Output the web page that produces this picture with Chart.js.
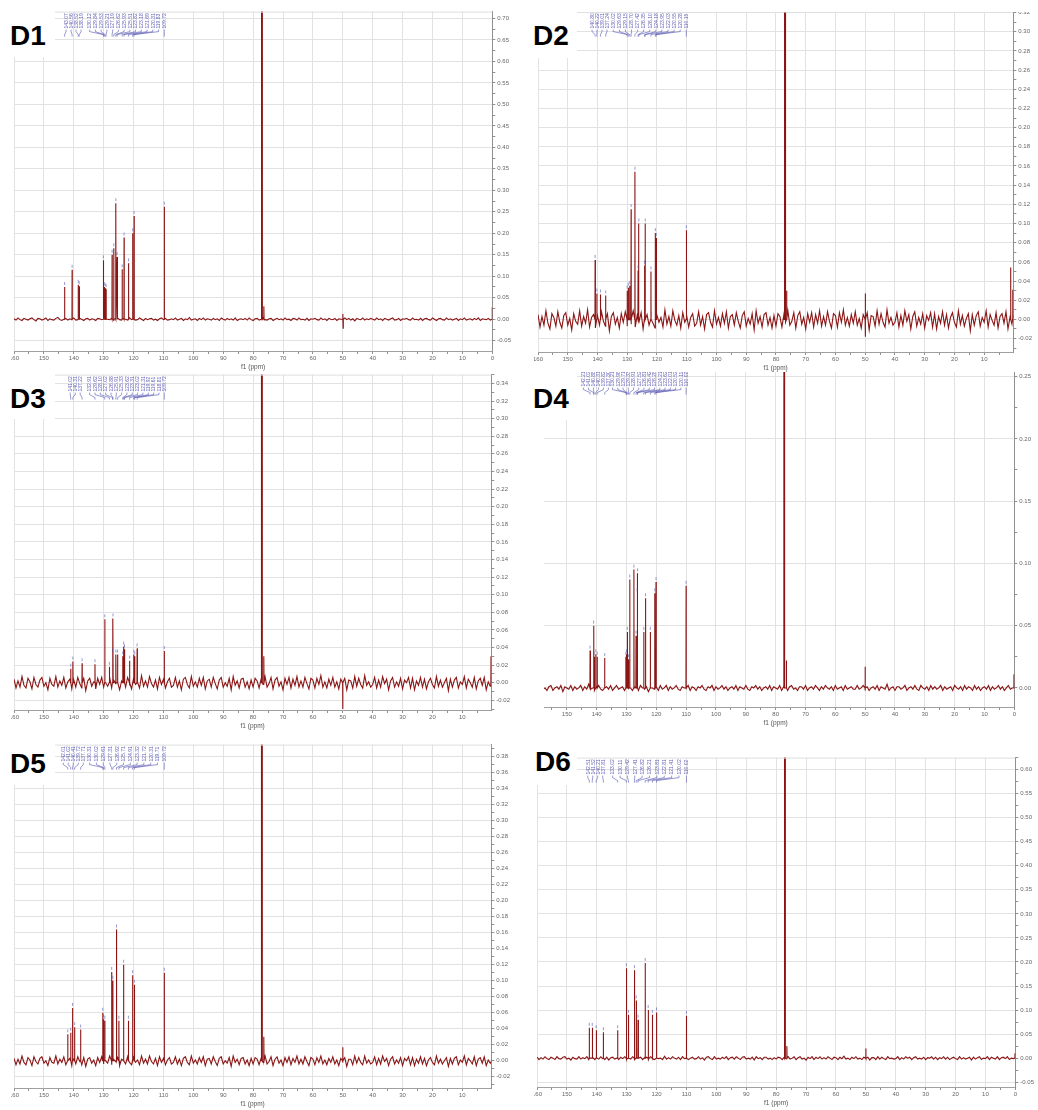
<!DOCTYPE html>
<html>
<head>
<meta charset="utf-8">
<script src="https://cdn.jsdelivr.net/npm/chart.js@4.4.1/dist/chart.umd.min.js"></script>
<style>
  body { margin:0; background:#fff; width:1038px; height:1110px; position:relative; overflow:hidden; }
  .clip { position:absolute; overflow:hidden; }
  .clip canvas { position:absolute; }
  .tag { position:absolute; background:#fff; z-index:5; }
  .tag span { position:absolute; font:bold 28px "Liberation Sans", Arial, sans-serif; line-height:28px; color:#000; }
</style>
</head>
<body>
<script>
// ---- spectra: peak positions (ppm), heights, baseline noise (x0.001, 160 -> 0 ppm) ----
const d1Ppm = [143.07, 140.56, 138.52, 138.19, 130.12, 129.84, 129.53, 129.21, 127.19, 126.62, 125.93, 125.51, 123.82, 123.18, 121.69, 120.31, 119.83, 109.72, 77.20, 76.95, 76.40, 50.02, 49.90, 0.05];
const d1Int = [0.075, 0.115, 0.080, 0.077, 0.137, 0.075, 0.072, 0.070, 0.150, 0.165, 0.270, 0.145, 0.116, 0.190, 0.130, 0.200, 0.240, 0.262, 1.5, 1.5, 0.030, 0.012, -0.021, 0.028];
const d1Noise = [
   1,-2, 3,-1,-3, 2, 0,-2, 1, 3,-1,-4, 2, 1,-2, 0, 3,-3, 1,-1,
  -2, 2, 4,-1,-3, 0, 2,-2, 1,-1, 3,-2,-1, 2, 0,-3, 1, 2,-2, 1,
   0,-3, 2, 1,-1, 3,-2, 0,-1, 2,-4, 1, 3,-1,-2, 2, 0,-2, 3,-1,
   1,-2,-1, 3, 0,-3, 2,-1, 1, 2,-2, 0,-3, 1, 3,-1, 2,-2,-1, 1,
  -1, 3,-2, 0, 2,-3, 1,-1, 4,-2, 0, 1,-3, 2,-1, 3,-2, 1, 0,-2,
   2,-1, 1,-3, 3, 0,-2, 2,-1, 1,-2, 3,-3, 0, 1,-1, 2,-2, 3,-1,
  -3, 1, 2,-2, 0, 3,-1,-2, 1, 2,-3, 0, 2,-1, 1,-2, 3,-1, 0,-3,
   2, 1,-2, 3,-1, 0,-2, 2,-3, 1, 0, 2,-1,-2, 3,-1, 1,-3, 2, 0,
  -1, 2,-3, 1, 0,-2, 3,-1, 2,-2, 1,-4, 2, 0,-1, 3,-2, 1,-1, 2,
   0,-2, 3,-1, 1,-3, 2, 0,-2, 1, 3,-2,-1, 2,-3, 1, 0, 2,-1,-2,
   3,-1, 0,-2, 2,-3, 1, 2,-1,-2, 3, 0,-3, 1, 2,-1,-2, 3,-1, 1,
  -2, 0, 2,-3, 1,-1, 3,-2, 0, 1,-2, 2,-1, 3,-3, 1, 0,-1, 2,-2, 1];

const d2Ppm = [140.80, 140.22, 139.01, 137.24, 130.02, 129.63, 129.15, 128.70, 127.42, 126.35, 126.10, 124.18, 123.95, 122.03, 120.55, 120.28, 110.15, 77.20, 76.95, 76.40, 49.98, 49.90, 1.10, 0.40];
const d2Int = [0.062, 0.027, 0.026, 0.025, 0.030, 0.033, 0.035, 0.115, 0.154, 0.051, 0.100, 0.056, 0.100, 0.050, 0.090, 0.085, 0.093, 1.5, 1.5, 0.030, 0.027, -0.018, 0.054, 0.031];
const d2Noise = [
   5,-8, 3,-6, 9,-4,-10, 6, 2,-7, 8,-3,-9, 4, 7,-6, 1,-11, 6,-2,
  -5, 9,-7, 3,-4, 10,-8, 2, 5,-9, 4,-6, 8,-2,-7, 6,-12, 3, 7,-5,
   2,-9, 6,-3, 8,-7, 1,-5, 9,-8, 4,-2, 7,-10, 3, 5,-6, 8,-4,-9,
   6,-3, 2,-8, 10,-5, 3,-7, 9,-1,-6, 4,-9, 7,-3, 5,-8, 2, 6,-7,
  -4, 8,-6, 3,-10, 5, 7,-3,-8, 9,-5, 2,-7, 6,-4, 8,-9, 3, 5,-6,
   7,-2,-9, 4, 8,-7, 1,-5, 6,-11, 9,-4, 3,-8, 5, 7,-6, 2,-9, 4,
  -7, 6, 3,-8, 5,-3, 9,-6,-2, 7,-9, 4, 8,-5, 2,-10, 6,-3, 7,-8,
   5,-4, 9,-7, 3,-6, 8,-2,-9, 6, 4,-8, 7,-3, 10,-6, 2,-7, 5,-4,
   8,-6, 1,-9, 5,-2, 7,-11, 4, 3,-7, 9,-5, 6,-3,-8, 10,-4, 2,-6,
  -3, 7,-8, 4,-6, 9,-2, 5,-10, 3, 8,-7, 2,-5, 6,-9, 4,-1, 7,-8,
   6,-10, 3,-4, 8,-6, 5,-9, 2, 7,-3,-8, 9,-5, 4,-7, 1, 6,-12, 5,
  -6, 4, 8,-7, 2,-3, 9,-8, 5,-1,-6, 7,-9, 3, 6,-4, 8,-10, 2,-5, 4];

const d3Ppm = [141.02, 140.31, 137.22, 132.91, 129.62, 128.10, 127.02, 126.88, 125.91, 125.33, 123.62, 123.31, 123.02, 121.31, 119.92, 119.61, 118.81, 109.72, 77.20, 76.95, 76.40, 50.00, 0.40];
const d3Int = [0.016, 0.024, 0.022, 0.021, 0.072, 0.018, 0.033, 0.073, 0.032, 0.032, 0.030, 0.041, 0.038, 0.025, 0.032, 0.030, 0.039, 0.036, 1.5, 1.5, 0.030, -0.030, 0.030];
const d3Noise = [
   4,-6, 2,-5, 7,-3,-6, 5, 1,-7, 6,-2,-5, 3, 6,-4, 0,-8, 5,-2,
  -4, 7,-5, 2,-3, 6,-6, 1, 4,-7, 3,-5, 6,-1,-6, 5,-9, 2, 5,-4,
   1,-7, 5,-2, 6,-5, 0,-4, 7,-6, 3,-1, 5,-8, 2, 4,-5, 6,-3,-7,
   5,-2, 1,-6, 8,-4, 2,-5, 7,-1,-5, 3,-7, 6,-2, 4,-6, 1, 5,-5,
  -3, 6,-5, 2,-8, 4, 6,-2,-6, 7,-4, 1,-5, 5,-3, 6,-7, 2, 4,-5,
   6,-1,-7, 3, 6,-5, 0,-4, 5,-8, 7,-3, 2,-6, 4, 5,-5, 1,-7, 3,
  -5, 5, 2,-6, 4,-2, 7,-5,-1, 6,-7, 3, 6,-4, 1,-8, 5,-2, 6,-6,
   4,-3, 7,-5, 2,-5, 6,-1,-7, 5, 3,-6, 5,-2, 8,-5, 1,-6, 4,-3,
   6,-5, 1,-7, 4,-2, 5,-8, 3, 2,-6, 7,-4, 5,-2,-6, 8,-3, 1,-5,
  -2, 6,-6, 3,-5, 7,-1, 4,-8, 2, 6,-5, 1,-4, 5,-7, 3, 0, 6,-6,
   5,-8, 2,-3, 6,-5, 4,-7, 1, 5,-2,-6, 7,-4, 3,-5, 0, 5,-9, 4,
  -5, 3, 6,-6, 1,-2, 7,-6, 4, 0,-5, 6,-7, 2, 5,-3, 6,-8, 1,-4, 2];

const d4Ppm = [142.21, 141.02, 140.88, 140.31, 139.82, 137.30, 130.21, 129.98, 129.71, 129.33, 128.91, 127.52, 126.81, 126.42, 126.28, 124.21, 123.62, 122.01, 120.52, 120.11, 110.02, 77.20, 76.95, 76.40, 50.00, 0.10];
const d4Int = [0.030, 0.050, 0.025, 0.027, 0.025, 0.024, 0.025, 0.027, 0.045, 0.023, 0.087, 0.095, 0.042, 0.076, 0.092, 0.045, 0.072, 0.045, 0.076, 0.085, 0.082, 1.5, 1.5, 0.022, 0.017, 0.011];
const d4Noise = [
   1,-2, 2,-1, 0,-2, 1, 2,-2, 0, 1,-1, 2,-3, 1, 0,-1, 2,-2, 1,
  -1, 0, 2,-2, 1,-1, 3,-1, 0,-2, 1, 2,-1,-2, 0, 1,-1, 2,-2, 0,
   2,-1, 0, 1,-2, 2,-1, 0,-2, 1, 1,-2, 2, 0,-1, 1,-3, 2, 0,-1,
   1,-2, 2,-1, 0, 2,-2, 1,-1, 0, 2,-1,-2, 1, 0,-1, 2,-2, 1, 0,
  -2, 1, 0, 2,-1,-2, 1, 0, 2,-2, 1,-1, 0, 2,-1, 1,-2, 0, 1,-1,
   2,-2, 1, 0,-1, 2,-1,-2, 1, 0, 2,-1, 1,-2, 0, 1,-1, 2,-2, 1,
   0,-1, 2,-2, 1, 0,-2, 1, 2,-1, 0,-2, 1, 1,-1, 2,-2, 0, 1,-1,
   2, 0,-2, 1,-1, 2, 0,-1, 1,-2, 2,-1, 0, 1,-2, 2,-1, 0, 1,-1,
  -1, 2,-1, 0, 2,-2, 1,-2, 0, 1,-1, 2,-2, 1, 0,-1, 3,-2, 0, 1,
  -2, 1, 1,-1, 0, 2,-2, 0, 1,-1, 2,-1,-2, 2, 0,-1, 1,-2, 2,-1,
   1,-1, 0, 2,-2, 1,-1, 0, 1,-2, 2, 0,-1, 1,-2, 2,-1, 1, 0,-2,
   2,-1, 1,-2, 0, 1,-1, 2,-2, 1,-1, 0, 2,-1, 1,-2, 0, 2,-1, 0, 1];

const d5Ppm = [142.01, 141.02, 140.41, 139.72, 137.71, 130.31, 130.02, 129.61, 127.31, 126.92, 125.71, 124.91, 123.32, 121.72, 120.31, 119.71, 109.72, 77.20, 76.95, 76.40, 50.00];
const d5Int = [0.033, 0.035, 0.066, 0.042, 0.039, 0.060, 0.052, 0.050, 0.111, 0.100, 0.164, 0.050, 0.120, 0.050, 0.107, 0.095, 0.110, 1.5, 1.5, 0.030, 0.017];
const d5Noise = [
   3,-5, 2,-4, 6,-2,-5, 4, 1,-6, 5,-1,-4, 3, 5,-3, 0,-6, 4,-2,
  -3, 6,-4, 2,-2, 5,-5, 1, 3,-6, 2,-4, 5,-1,-5, 4,-7, 2, 4,-3,
   1,-6, 4,-2, 5,-4, 0,-3, 6,-5, 2,-1, 4,-6, 2, 3,-4, 5,-2,-5,
   4,-2, 1,-5, 6,-3, 2,-4, 6,-1,-4, 3,-6, 5,-2, 3,-5, 1, 4,-4,
  -2, 5,-4, 2,-6, 3, 5,-2,-5, 6,-3, 1,-4, 4,-2, 5,-6, 2, 3,-4,
   5,-1,-6, 3, 5,-4, 0,-3, 4,-7, 6,-2, 2,-5, 3, 4,-4, 1,-6, 3,
  -4, 4, 2,-5, 3,-2, 6,-4,-1, 5,-6, 2, 5,-3, 1,-6, 4,-2, 5,-5,
   3,-2, 6,-4, 2,-4, 5,-1,-6, 4, 2,-5, 4,-2, 6,-4, 1,-5, 3,-2,
   5,-4, 1,-6, 3,-2, 4,-7, 2, 2,-5, 6,-3, 4,-2,-5, 6,-3, 1,-4,
  -2, 5,-5, 3,-4, 6,-1, 3,-6, 2, 5,-4, 1,-3, 4,-6, 3, 0, 5,-5,
   4,-6, 2,-3, 5,-4, 3,-6, 1, 4,-2,-5, 6,-3, 2,-4, 0, 4,-7, 3,
  -4, 3, 5,-5, 1,-2, 6,-5, 3, 0,-4, 5,-6, 2, 4,-3, 5,-6, 1,-3, 1];

const d6Ppm = [142.51, 141.52, 140.21, 137.81, 133.02, 130.11, 129.42, 127.41, 126.82, 126.21, 123.81, 122.81, 121.41, 120.02, 110.02, 77.20, 76.95, 76.40, 50.00, 0.10];
const d6Int = [0.063, 0.063, 0.058, 0.054, 0.058, 0.187, 0.090, 0.183, 0.120, 0.080, 0.198, 0.100, 0.090, 0.095, 0.088, 1.5, 1.5, 0.025, 0.020, 0.010];
const d6Noise = [
   2,-3, 1,-2, 3,-1,-3, 2, 0,-3, 3,-1,-2, 2, 3,-2, 0,-4, 2,-1,
  -2, 3,-2, 1,-1, 3,-3, 0, 2,-3, 1,-2, 3,-1,-3, 2,-4, 1, 2,-2,
   0,-3, 2,-1, 3,-2, 0,-2, 3,-3, 1, 0, 2,-3, 1, 2,-2, 3,-1,-3,
   2,-1, 0,-3, 4,-2, 1,-2, 3, 0,-2, 2,-3, 3,-1, 2,-3, 0, 2,-2,
  -1, 3,-2, 1,-4, 2, 3,-1,-3, 3,-2, 0,-2, 2,-1, 3,-3, 1, 2,-2,
   3, 0,-3, 2, 3,-2, 0,-2, 2,-4, 3,-1, 1,-3, 2, 2,-2, 0,-3, 1,
  -2, 2, 1,-3, 2,-1, 3,-2, 0, 3,-3, 1, 3,-2, 0,-4, 2,-1, 3,-3,
   2,-1, 3,-2, 1,-2, 3, 0,-3, 2, 1,-3, 2,-1, 4,-2, 0,-3, 2,-1,
   3,-2, 0,-3, 2,-1, 2,-4, 1, 1,-3, 3,-2, 2,-1,-3, 3,-1, 0,-2,
  -1, 3,-3, 1,-2, 3, 0, 2,-3, 1, 3,-2, 0,-2, 2,-3, 1, 0, 3,-2,
   2,-3, 1,-1, 3,-2, 2,-3, 0, 2,-1,-3, 3,-2, 1,-2, 0, 2,-4, 2,
  -2, 1, 3,-3, 0,-1, 3,-3, 2, 0,-2, 3,-3, 1, 2,-1, 3,-3, 0,-1, 0];

// axis ranges (ppm axis runs 160 -> xMin, intensity axis yMin..yMax)
const PPM_MAX = 160;

const panels = [
  { tag:'D1', ppm:d1Ppm, int:d1Int, noise:d1Noise, xMin:0,   yMin:-0.074, yMax:0.716, yMinor:0.025, yMajor:0.05,
    box:[11,0,522,372],   area:[14,12,492,351],    tagBox:[0,0,55,57],     tagAt:[10,22] },
  { tag:'D2', ppm:d2Ppm, int:d2Int, noise:d2Noise, xMin:0.2, yMin:-0.034, yMax:0.321, yMinor:0.01, yMajor:0.02,
    box:[534,12,1038,372], area:[538,12,1013,352],  tagBox:[520,0,57,58],   tagAt:[533,22] },
  { tag:'D3', ppm:d3Ppm, int:d3Int, noise:d3Noise, xMin:0.3, yMin:-0.031, yMax:0.350, yMinor:0.01, yMajor:0.02,
    box:[11,372,522,735], area:[14,375,491,710],   tagBox:[0,372,55,47],   tagAt:[10,385] },
  { tag:'D4', ppm:d4Ppm, int:d4Int, noise:d4Noise, xMin:0,   yMin:-0.0153, yMax:0.2556, yMinor:0.025, yMajor:0.05,
    box:[544,372,1038,735], area:[537,370,1014,707], tagBox:[520,372,57,48], tagAt:[533,385] },
  { tag:'D5', ppm:d5Ppm, int:d5Int, noise:d5Noise, xMin:0.3, yMin:-0.034, yMax:0.395, yMinor:0.01, yMajor:0.02,
    box:[11,735,522,1110], area:[14,745,491,1088], tagBox:[0,735,55,50],   tagAt:[10,750] },
  { tag:'D6', ppm:d6Ppm, int:d6Int, noise:d6Noise, xMin:0,   yMin:-0.060, yMax:0.625, yMinor:0.025, yMajor:0.05,
    box:[534,735,1038,1110], area:[537,758,1015,1087], tagBox:[520,735,57,50], tagAt:[535,748] }
];

Chart.defaults.font.family = '"Liberation Sans", Arial, sans-serif';

function spectrum(p) {
  const pts = [];
  const step = PPM_MAX / (p.noise.length - 1);
  p.noise.forEach((n, i) => pts.push({ x: PPM_MAX - i * step, y: n / 1000 }));
  p.ppm.forEach((v, i) => {
    pts.push({ x: v + 0.05, y: 0 }, { x: v, y: p.int[i] }, { x: v - 0.05, y: 0 });
  });
  pts.sort((a, b) => b.x - a.x);
  return pts;
}

const isMult = (v, m) => Math.abs(Math.round(v / m) * m - v) < 1e-6;

// top border + peak-picking labels
const nmrDecor = {
  id: 'nmrDecor',
  afterDatasetsDraw(chart, args, opts) {
    const { ctx, chartArea: ca, scales: { x, y } } = chart;
    ctx.save();
    ctx.strokeStyle = '#dedede';
    ctx.lineWidth = 1;
    ctx.beginPath(); ctx.moveTo(ca.left, ca.top + 0.5); ctx.lineTo(ca.right, ca.top + 0.5); ctx.stroke();

    const list = opts.ppm.map((v, i) => ({ v, h: opts.int[i] }))
      .filter(o => o.v > 105 && o.v < 146).sort((a, b) => b.v - a.v);
    const left = list.filter(o => o.v > 134), right = list.filter(o => o.v <= 134);
    const slots = [];
    const mean = left.reduce((s, o) => s + x.getPixelForValue(o.v), 0) / left.length;
    left.forEach((o, i) => slots.push({ o, sx: mean + (i - (left.length - 1) / 2) * 5 }));
    const r0 = x.getPixelForValue(134.7), r1 = x.getPixelForValue(right[right.length - 1].v);
    right.forEach((o, i) => slots.push({ o, sx: r0 + (r1 - r0) * i / (right.length - 1) }));

    const t = ca.top;
    ctx.font = '5px "Liberation Sans", Arial, sans-serif';
    ctx.fillStyle = 'rgba(70,70,170,0.85)';
    ctx.strokeStyle = 'rgba(70,70,170,0.8)';
    ctx.lineWidth = 0.7;
    slots.forEach(({ o, sx }) => {
      ctx.save();
      ctx.translate(sx + 1.8, t + 17);
      ctx.rotate(-Math.PI / 2);
      ctx.fillText(o.v.toFixed(2), 0, 0);
      ctx.restore();
      const px = x.getPixelForValue(o.v);
      ctx.beginPath();
      ctx.moveTo(sx, t + 18); ctx.lineTo(sx, t + 20); ctx.lineTo(px, t + 23); ctx.lineTo(px, t + 25);
      ctx.stroke();
      const py = y.getPixelForValue(o.h);
      if (py - 6 > t + 26) {
        ctx.beginPath(); ctx.moveTo(px, py - 5); ctx.lineTo(px, py - 2); ctx.stroke();
      }
    });
    ctx.restore();
  }
};

function config(p) {
  return {
    type: 'line',
    data: { datasets: [{
      data: spectrum(p),
      borderColor: '#8b1414',
      borderWidth: 1.1,
      pointRadius: 0,
      tension: 0,
      fill: false
    }] },
    options: {
      animation: false,
      responsive: false,
      events: [],
      layout: { padding: { top: 2, right: 2, bottom: 2, left: 2 } },
      plugins: {
        legend: { display: false },
        tooltip: { enabled: false },
        nmrDecor: { ppm: p.ppm, int: p.int }
      },
      scales: {
        x: {
          type: 'linear', reverse: true, min: p.xMin, max: PPM_MAX, position: 'bottom',
          border: { color: '#a0a0a0', width: 1 },
          grid: {
            color: c => (c.tick && isMult(c.tick.value, 10)) ? '#e2e2e2' : 'rgba(0,0,0,0)',
            tickColor: '#909090', tickLength: 3
          },
          ticks: {
            stepSize: 5, includeBounds: false, autoSkip: false, maxRotation: 0, minRotation: 0,
            color: '#666', font: { size: 6 }, padding: 1,
            callback: v => isMult(v, 10) ? String(Math.round(v)) : ''
          },
          title: { display: true, text: 'f1 (ppm)', color: '#555', font: { size: 6.5 }, padding: { top: 0, bottom: 0 } }
        },
        y: {
          type: 'linear', position: 'right', min: p.yMin, max: p.yMax,
          border: { color: '#909090', width: 1 },
          grid: {
            color: c => (c.tick && isMult(c.tick.value, p.yMajor)) ? '#e2e2e2' : 'rgba(0,0,0,0)',
            tickColor: '#909090', tickLength: 3
          },
          ticks: {
            stepSize: p.yMinor, includeBounds: false, autoSkip: false,
            color: '#666', font: { size: 6 }, padding: 2,
            callback: v => isMult(v, p.yMajor) ? (Math.abs(v) < 1e-9 ? 0 : v).toFixed(2) : ''
          }
        }
      }
    },
    plugins: [nmrDecor]
  };
}

panels.forEach(p => {
  const [bl, bt, br, bb] = p.box;
  const [al, at, ar, ab] = p.area;
  const wrap = document.createElement('div');
  wrap.className = 'clip';
  Object.assign(wrap.style, { left: bl + 'px', top: bt + 'px', width: (br - bl) + 'px', height: (bb - bt) + 'px' });
  document.body.appendChild(wrap);

  // first pass: measure the paddings Chart.js puts round the plot area
  const probe = document.createElement('canvas');
  probe.width = 600; probe.height = 400;
  wrap.appendChild(probe);
  const c0 = new Chart(probe, config(p));
  const ca = c0.chartArea;
  const padL = ca.left, padT = ca.top, padR = 600 - ca.right, padB = 400 - ca.bottom;
  c0.destroy();
  probe.remove();

  const cv = document.createElement('canvas');
  cv.width = Math.round(padL + (ar - al) + padR);
  cv.height = Math.round(padT + (ab - at) + padB);
  wrap.appendChild(cv);
  const chart = new Chart(cv, config(p));
  cv.style.left = (al - bl - chart.chartArea.left) + 'px';
  cv.style.top = (at - bt - chart.chartArea.top) + 'px';

  const tag = document.createElement('div');
  tag.className = 'tag';
  const [tl, tt, tw, th] = p.tagBox;
  Object.assign(tag.style, { left: tl + 'px', top: tt + 'px', width: tw + 'px', height: th + 'px' });
  const s = document.createElement('span');
  s.textContent = p.tag;
  s.style.left = (p.tagAt[0] - tl) + 'px';
  s.style.top = (p.tagAt[1] - tt) + 'px';
  tag.appendChild(s);
  document.body.appendChild(tag);
});
</script>
</body>
</html>
